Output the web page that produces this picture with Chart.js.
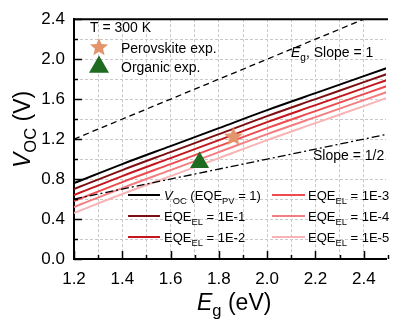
<!DOCTYPE html>
<html>
<head>
<meta charset="utf-8">
<script src="https://cdn.jsdelivr.net/npm/chart.js@4"></script>
<style>
  html, body { margin: 0; padding: 0; background: #fff; }
  #wrap { width: 397px; height: 326px; }
</style>
</head>
<body>
<div id="wrap"><canvas id="graphic" width="397" height="326"></canvas></div>
<script>
// band gap grid (eV) and Voc curves
const egGrid = [1.2, 1.4, 1.6, 1.8, 2.0, 2.2, 2.4, 2.5];
const vocPV1 = [0.76, 0.95, 1.13, 1.31, 1.49, 1.66, 1.83, 1.915];
const vocEL1 = [0.70, 0.89, 1.07, 1.25, 1.43, 1.60, 1.77, 1.855];
const vocEL2 = [0.64, 0.83, 1.01, 1.19, 1.37, 1.54, 1.71, 1.795];
const vocEL3 = [0.58, 0.77, 0.95, 1.13, 1.31, 1.48, 1.65, 1.735];
const vocEL4 = [0.52, 0.71, 0.89, 1.07, 1.25, 1.42, 1.59, 1.675];
const vocEL5 = [0.46, 0.65, 0.83, 1.01, 1.19, 1.36, 1.53, 1.615];

// reference lines
const refEg = [1.2, 2.5];
const slopeOne = [1.2, 2.5];
const slopeHalf = [0.6, 1.25];

// experiments
const perovskite = [{ x: 1.86, y: 1.23 }];
const organic = [{ x: 1.72, y: 0.965 }];

const curveColors = ['#000000', '#7d0f12', '#c4161c', '#ee4b51', '#f47d80', '#f8b3b5'];
const curveLabels = ['V_OC (EQE_PV = 1)', 'EQE_EL = 1E-1', 'EQE_EL = 1E-2', 'EQE_EL = 1E-3', 'EQE_EL = 1E-4', 'EQE_EL = 1E-5'];
const starColor = '#e4946a';
const triColor = '#1f6b1f';
const FONT = '"Liberation Sans", Arial, sans-serif';

function pts(xs, ys) {
    return xs.map((x, i) => ({ x: x, y: ys[i] }));
}

function makeStar(size, color) {
    const c = document.createElement('canvas');
    c.width = size; c.height = size;
    const g = c.getContext('2d');
    drawStar(g, size / 2, size / 2 + size * 0.04, size / 2, color);
    return c;
}

function drawStar(g, cx, cy, r, color) {
    g.beginPath();
    for (let i = 0; i < 10; i++) {
        const rr = i % 2 === 0 ? r : r * 0.45;
        const a = -Math.PI / 2 + i * Math.PI / 5;
        const px = cx + rr * Math.cos(a), py = cy + rr * Math.sin(a);
        if (i === 0) g.moveTo(px, py); else g.lineTo(px, py);
    }
    g.closePath();
    g.fillStyle = color;
    g.fill();
}

function drawTri(g, cx, cy, w, color) {
    const h = w * 0.87;
    g.beginPath();
    g.moveTo(cx, cy - h * 0.55);
    g.lineTo(cx + w / 2, cy + h * 0.45);
    g.lineTo(cx - w / 2, cy + h * 0.45);
    g.closePath();
    g.fillStyle = color;
    g.fill();
}

// text with italic / subscript pieces
function richText(g, x, y, parts, size) {
    let cx = x;
    g.fillStyle = '#000';
    parts.forEach(p => {
        const fs = p.sub ? size * 0.72 : size;
        g.font = (p.italic ? 'italic ' : '') + fs + 'px ' + FONT;
        g.fillText(p.t, cx, p.sub ? y + size * 0.28 : y);
        cx += g.measureText(p.t).width;
    });
    return cx - x;
}

function labelParts(label) {
    if (label.startsWith('V_OC')) {
        return [{ t: 'V', italic: true }, { t: 'OC', sub: true }, { t: ' (EQE' }, { t: 'PV', sub: true }, { t: ' = 1)' }];
    }
    return [{ t: 'EQE' }, { t: 'EL', sub: true }, { t: ' = ' + label.split('= ')[1] }];
}

const decor = {
    id: 'decor',
    afterDraw(chart) {
        const g = chart.ctx;
        const a = chart.chartArea;
        const xs = chart.scales.x, ys = chart.scales.y;
        g.save();
        g.strokeStyle = '#000';

        // top frame
        g.lineWidth = 2;
        g.beginPath();
        g.moveTo(a.left - 1, a.top);
        g.lineTo(a.right + 2, a.top);
        g.stroke();

        // inward ticks
        g.lineWidth = 1.5;
        for (let i = 12; i <= 25; i++) {
            const px = Math.round(xs.getPixelForValue(i / 10)) + 0.5;
            const len = i % 2 === 0 ? 8 : 4;
            g.beginPath();
            g.moveTo(px, a.bottom);
            g.lineTo(px, a.bottom - len);
            g.stroke();
        }
        for (let i = 0; i <= 12; i++) {
            const py = Math.round(ys.getPixelForValue(i / 5)) + 0.5;
            const len = i % 2 === 0 ? 8 : 4;
            g.beginPath();
            g.moveTo(a.left, py);
            g.lineTo(a.left + len, py);
            g.stroke();
        }

        // axis titles
        g.textBaseline = 'alphabetic';
        g.save();
        g.translate(30, 168);
        g.rotate(-Math.PI / 2);
        richText(g, 0, 0, [{ t: 'V', italic: true }, { t: 'OC', sub: true }, { t: ' (V)' }], 23);
        g.restore();
        richText(g, 197, 310, [{ t: 'E', italic: true }, { t: 'g', sub: true }, { t: ' (eV)' }], 23);

        // annotations
        richText(g, 291, 57, [{ t: 'E', italic: true }, { t: 'g', sub: true }, { t: ', Slope = 1' }], 14);
        richText(g, 313, 160, [{ t: 'Slope = 1/2' }], 14);

        // top-left legend
        richText(g, 90, 32, [{ t: 'T = 300 K' }], 14);
        drawStar(g, 99, 47.5, 9.5, starColor);
        richText(g, 121, 53, [{ t: 'Perovskite exp.' }], 14);
        drawTri(g, 99, 65, 20, triColor);
        richText(g, 121, 72, [{ t: 'Organic exp.' }], 14);

        // bottom legend, two columns
        const cols = [{ x0: 128, x1: 160, tx: 164 }, { x0: 272, x1: 305, tx: 308 }];
        const rows = [195, 216, 237];
        curveLabels.forEach((lab, i) => {
            const col = cols[Math.floor(i / 3)];
            const y = rows[i % 3];
            g.strokeStyle = curveColors[i];
            g.lineWidth = 2;
            g.beginPath();
            g.moveTo(col.x0, y);
            g.lineTo(col.x1, y);
            g.stroke();
            richText(g, col.tx, y + 5, labelParts(lab), 13);
        });
        g.restore();
    }
};

const curves = [vocPV1, vocEL1, vocEL2, vocEL3, vocEL4, vocEL5].map((ys, i) => ({
    label: curveLabels[i],
    data: pts(egGrid, ys),
    borderColor: curveColors[i],
    borderWidth: 2,
    pointRadius: 0,
    showLine: true,
    cubicInterpolationMode: 'monotone',
    order: 6 - i
}));

new Chart(document.getElementById('graphic'), {
    type: 'scatter',
    data: {
        datasets: [
            ...curves,
            {
                label: 'Eg, Slope = 1',
                data: pts(refEg, slopeOne),
                borderColor: '#000',
                borderWidth: 1.3,
                borderDash: [6, 4],
                pointRadius: 0,
                showLine: true
            },
            {
                label: 'Slope = 1/2',
                data: pts(refEg, slopeHalf),
                borderColor: '#000',
                borderWidth: 1.3,
                borderDash: [8, 3, 2, 3],
                pointRadius: 0,
                showLine: true
            },
            {
                label: 'Perovskite exp.',
                data: perovskite,
                pointStyle: makeStar(20, starColor),
                pointRadius: 10,
                order: -1
            },
            {
                label: 'Organic exp.',
                data: organic,
                pointStyle: 'triangle',
                pointRadius: 11,
                backgroundColor: triColor,
                borderColor: triColor,
                borderWidth: 0,
                order: -1
            }
        ]
    },
    options: {
        responsive: false,
        animation: false,
        layout: { padding: { top: 10, right: 0, left: 0, bottom: 0 } },
        plugins: {
            legend: { display: false },
            tooltip: { enabled: false }
        },
        scales: {
            x: {
                type: 'linear',
                min: 1.2,
                max: 2.492,
                afterFit: (s) => { s.height = 67; },
                ticks: {
                    stepSize: 0.1,
                    includeBounds: false,
                    padding: 10,
                    color: '#000',
                    font: { family: FONT, size: 17 },
                    maxRotation: 0,
                    autoSkip: false,
                    callback: (v) => Math.round(v * 10) % 2 === 0 ? v.toFixed(1) : ''
                },
                grid: { color: '#c8c8c8', lineWidth: 1, drawTicks: false },
                border: { color: '#000', width: 2, dash: [3, 2] }
            },
            y: {
                min: 0,
                max: 2.4,
                afterFit: (s) => { s.width = 74; },
                ticks: {
                    stepSize: 0.2,
                    padding: 9,
                    color: '#000',
                    font: { family: FONT, size: 17 },
                    autoSkip: false,
                    callback: (v) => Math.round(v * 10) % 4 === 0 ? v.toFixed(1) : ''
                },
                grid: { color: '#c8c8c8', lineWidth: 1, drawTicks: false },
                border: { color: '#000', width: 2, dash: [3, 2] }
            }
        }
    },
    plugins: [decor]
});
</script>
</body>
</html>
